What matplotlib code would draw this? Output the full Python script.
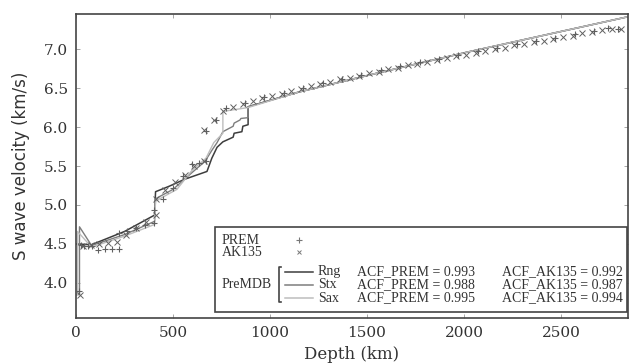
import matplotlib
matplotlib.use("Agg")
import matplotlib.pyplot as plt
from matplotlib.lines import Line2D
from matplotlib.patches import Rectangle

# ---------------- data ----------------
prem_depth = [15, 24.4, 40, 60, 80, 115, 150, 185, 220, 220, 265, 310, 355, 400, 400,
              450, 500, 550, 600, 635, 670, 670, 721, 771, 871, 971, 1071, 1171, 1271,
              1371, 1471, 1571, 1671, 1771, 1871, 1971, 2071, 2171, 2271, 2371, 2471,
              2571, 2671, 2741, 2791]
prem_vs = [3.90, 4.49, 4.48, 4.48, 4.47, 4.42, 4.43, 4.43, 4.44, 4.64, 4.67, 4.70, 4.74,
           4.77, 4.93, 5.08, 5.22, 5.37, 5.52, 5.54, 5.57, 5.95, 6.09, 6.24, 6.31, 6.38,
           6.44, 6.50, 6.56, 6.62, 6.67, 6.73, 6.78, 6.83, 6.87, 6.92, 6.97, 7.01, 7.06,
           7.10, 7.14, 7.19, 7.23, 7.27, 7.26]

ak135_depth = [20, 35, 77, 120, 165, 210, 260, 310, 360, 410, 410, 460, 510, 560, 610,
               660, 660, 710, 760, 810, 860, 910, 960, 1010, 1060, 1110, 1160, 1210, 1260,
               1310, 1360, 1410, 1460, 1510, 1560, 1610, 1660, 1710, 1760, 1810, 1860,
               1910, 1960, 2010, 2060, 2110, 2160, 2210, 2260, 2310, 2360, 2410, 2460,
               2510, 2560, 2610, 2660, 2710, 2760, 2810]
ak135_vs = [3.85, 4.48, 4.49, 4.50, 4.51, 4.52, 4.61, 4.70, 4.78, 4.87, 5.08, 5.19, 5.29,
            5.39, 5.50, 5.57, 5.96, 6.09, 6.21, 6.26, 6.30, 6.33, 6.37, 6.40, 6.43, 6.46,
            6.49, 6.52, 6.55, 6.58, 6.61, 6.63, 6.66, 6.69, 6.71, 6.74, 6.76, 6.79, 6.81,
            6.84, 6.86, 6.88, 6.91, 6.93, 6.95, 6.98, 7.00, 7.02, 7.05, 7.07, 7.09, 7.11,
            7.13, 7.15, 7.17, 7.20, 7.22, 7.24, 7.26, 7.26]

# PreMDB models (shared lower-mantle part)
lm_depth = [1150, 1550, 2015, 2891]
lm_vs = [6.45, 6.69, 6.96, 7.44]

rng_depth = [0, 80, 250, 405, 410, 480, 560, 675, 700, 727, 757, 810, 815, 855, 860, 887, 887]
rng_vs = [4.50, 4.49, 4.66, 4.87, 5.17, 5.24, 5.33, 5.43, 5.60, 5.74, 5.81, 5.87, 5.92,
          5.94, 6.01, 6.03, 6.26]

stx_depth = [0, 18, 18, 80, 250, 405, 410, 500, 600, 665, 700, 727, 757, 810, 815, 845,
             850, 887, 887]
stx_vs = [3.85, 3.85, 4.72, 4.48, 4.62, 4.79, 5.08, 5.20, 5.42, 5.56, 5.70, 5.80, 5.94,
          6.01, 6.05, 6.09, 6.11, 6.12, 6.26]

sax_depth = [0, 8, 8, 80, 250, 405, 410, 520, 600, 670, 710, 757, 757, 887]
sax_vs = [3.85, 3.85, 4.66, 4.46, 4.60, 4.75, 5.05, 5.20, 5.45, 5.60, 5.80, 5.92, 6.20, 6.25]

model_names = ["Rng", "Stx", "Sax"]
acf_prem = ["0.993", "0.988", "0.995"]
acf_ak135 = ["0.992", "0.987", "0.994"]

x_ticks = [0, 500, 1000, 1500, 2000, 2500]
y_ticks = [4.0, 4.5, 5.0, 5.5, 6.0, 6.5, 7.0]

# ---------------- figure ----------------
fig = plt.figure(figsize=(6.29, 3.64), dpi=100)
ax = fig.add_axes([76 / 629, 46 / 364, 552 / 629, 304 / 364])

model_colors = ["#3d3d3d", "#7d7d7d", "#bdbdbd"]
model_lw = [1.1, 1.0, 1.0]
models = [(rng_depth, rng_vs), (stx_depth, stx_vs), (sax_depth, sax_vs)]
for (d, v), c, lw in zip(models, model_colors, model_lw):
    ax.plot(list(d) + lm_depth, list(v) + lm_vs, color=c, lw=lw, zorder=2)

ax.plot(prem_depth, prem_vs, ls="none", marker="+", ms=4.5, mew=0.8, color="#606060", zorder=3)
ax.plot(ak135_depth, ak135_vs, ls="none", marker="x", ms=3.8, mew=0.7, color="#606060", zorder=3)

ax.set_xlim(0, 2845)
ax.set_ylim(3.55, 7.45)
ax.set_xticks(x_ticks)
ax.set_yticks(y_ticks)
ax.set_xticklabels([str(t) for t in x_ticks], family="DejaVu Serif", fontsize=11, color="#333333")
ax.set_yticklabels([f"{t:.1f}" for t in y_ticks], family="DejaVu Serif", fontsize=11, color="#333333")
ax.tick_params(direction="in", length=3, width=0.6, color="#999999", top=True, right=True, pad=6)
for s in ax.spines.values():
    s.set_color("#444444")
    s.set_linewidth(1.2)

ax.set_xlabel("Depth (km)", family="DejaVu Serif", fontsize=12, color="#333333", labelpad=4)
ax.set_ylabel("S wave velocity (km/s)", family="DejaVu Sans", fontsize=12, color="#333333", labelpad=10)

# ---------------- custom legend ----------------
def fx(px):
    return (px - 76) / 552

def fy(py):
    return (318 - py) / 304

T = ax.transAxes
ax.add_patch(Rectangle((fx(215), fy(312)), fx(627) - fx(215), fy(227) - fy(312), transform=T,
                       fill=True, facecolor="white", edgecolor="#444444", lw=1.2, zorder=5))
lfont = dict(family="Liberation Serif", fontsize=10, color="#333333", va="center", transform=T, zorder=6)
ax.text(fx(222), fy(240), "PREM", **lfont)
ax.text(fx(222), fy(252), "AK135", **lfont)
ax.text(fx(222), fy(285), "PreMDB", **lfont)
ax.add_line(Line2D([fx(299)], [fy(240)], marker="+", ms=4.5, mew=0.8, color="#777777", transform=T, zorder=6))
ax.add_line(Line2D([fx(299)], [fy(252)], marker="x", ms=3.5, mew=0.7, color="#777777", transform=T, zorder=6))
ax.add_line(Line2D([fx(281), fx(278.5), fx(278.5), fx(281)], [fy(267), fy(267), fy(302), fy(302)],
                   color="#444444", lw=1.2, transform=T, zorder=6))
rows = [272, 285, 298]
for i, py in enumerate(rows):
    ax.add_line(Line2D([fx(285), fx(313)], [fy(py), fy(py)], color=model_colors[i], lw=1.1,
                       transform=T, zorder=6))
    ax.text(fx(318), fy(py), model_names[i], **lfont)
    ax.text(fx(357), fy(py), f"ACF_PREM = {acf_prem[i]}", **lfont)
    ax.text(fx(502), fy(py), f"ACF_AK135 = {acf_ak135[i]}", **lfont)

fig.savefig("out.png", dpi=100)
